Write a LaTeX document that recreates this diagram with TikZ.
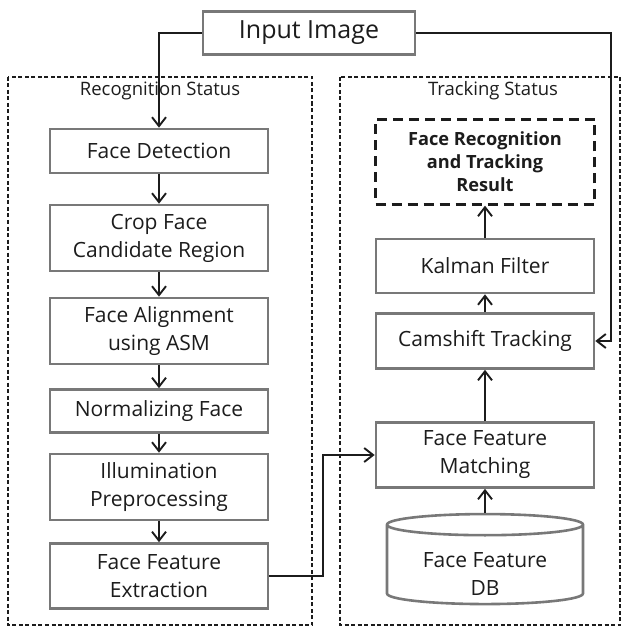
\documentclass[tikz,border=0pt]{standalone}
\usepackage{fontspec}
\setmainfont{Open Sans}
\usetikzlibrary{arrows.meta,shapes.geometric}

\newlength{\du}
\setlength{\du}{1\unitlength}

\definecolor{boxgray}{rgb}{0.470000, 0.470000, 0.470000}
\definecolor{inkdark}{rgb}{0.110000, 0.110000, 0.110000}

\tikzset{
  procbox/.style={draw=boxgray, line width=2.6pt, fill=white, text=inkdark,
    align=center, inner sep=0pt, minimum width=218\du,
    font=\fontsize{21}{28}\selectfont},
  resultbox/.style={draw=inkdark, line width=2.4pt, dash pattern=on 10pt off 6pt,
    fill=white, text=inkdark, align=center, inner sep=0pt, minimum width=219\du,
    minimum height=85\du, font=\fontsize{18.2}{23}\selectfont\bfseries},
  dbstore/.style={cylinder, shape border rotate=90, aspect=0.17, draw=boxgray,
    line width=2.6pt, fill=white, align=center, inner sep=0pt,
    minimum width=196\du, minimum height=90\du, font=\fontsize{21}{28}\selectfont},
  dbtext/.style={text=inkdark, align=center, inner sep=0pt,
    font=\fontsize{21}{28}\selectfont},
  stateframe/.style={draw=inkdark, line width=1.2pt, dash pattern=on 4pt off 2.5pt},
  statetitle/.style={text=inkdark, inner sep=0pt, font=\fontsize{18.5}{22}\selectfont},
  flow/.style={draw=inkdark, line width=1.9pt, -{Straight Barb[length=9pt,width=14pt,line width=1.9pt]}},
}

\begin{document}
\begin{tikzpicture}
\pgftransformxscale{1.000000}
\pgftransformyscale{-1.000000}
\useasboundingbox (0\du,0\du) rectangle (625\du,628\du);

% status frames
\draw[stateframe] (8\du,77\du) rectangle (312\du,625\du);
\draw[stateframe] (340\du,77\du) rectangle (620\du,625\du);
\node[statetitle] (rectitle) at (160\du,91\du){Recognition Status};
\node[statetitle] (tracktitle) at (493\du,91\du){Tracking Status};

% input
\node[procbox, minimum width=212\du, minimum height=43\du, font=\fontsize{25}{30}\selectfont] (img) at (309\du,33\du){Input Image};

% recognition side
\node[procbox, minimum height=44\du] (det) at (159\du,151\du){Face Detection};
\node[procbox, minimum height=66\du] (crop) at (159\du,238\du){Crop Face\\Candidate Region};
\node[procbox, minimum height=66\du] (align) at (159\du,331\du){Face Alignment\\using ASM};
\node[procbox, minimum height=43\du] (norm) at (159\du,411\du){Normalizing Face};
\node[procbox, minimum height=66\du] (illum) at (159\du,487\du){Illumination\\Preprocessing};
\node[procbox, minimum height=65\du] (ext) at (159\du,576\du){Face Feature\\Extraction};

% tracking side
\node[resultbox] (res) at (485\du,162\du){Face Recognition\\and Tracking\\Result};
\node[procbox, minimum height=54\du] (kal) at (485\du,266\du){Kalman Filter};
\node[procbox, minimum height=55\du] (cam) at (485\du,341\du){Camshift Tracking};
\node[procbox, minimum height=65\du] (match) at (485\du,455\du){Face Feature\\Matching};
\node[dbstore] (db) at (485\du,565\du){\phantom{Face Feature}\\\phantom{DB}};
\node[dbtext] (dblabel) at (485\du,574\du){Face Feature\\DB};

% turning points
\coordinate (lturn) at (323\du,0\du);
\coordinate (rturn) at (611\du,0\du);

% connectors
\draw[flow] (img.west) -| (det.north);
\draw[flow] (det) -- (crop);
\draw[flow] (crop) -- (align);
\draw[flow] (align) -- (norm);
\draw[flow] (norm) -- (illum);
\draw[flow] (illum) -- (ext);
\draw[flow] (ext.east) -| (lturn |- match.west) -- (match.west);
\draw[flow] (db) -- (match);
\draw[flow] (match) -- (cam);
\draw[flow] (cam) -- (kal);
\draw[flow] (kal) -- (res);
\draw[flow] (img.east) -| (rturn |- cam.east) -- (cam.east);
\end{tikzpicture}
\end{document}
